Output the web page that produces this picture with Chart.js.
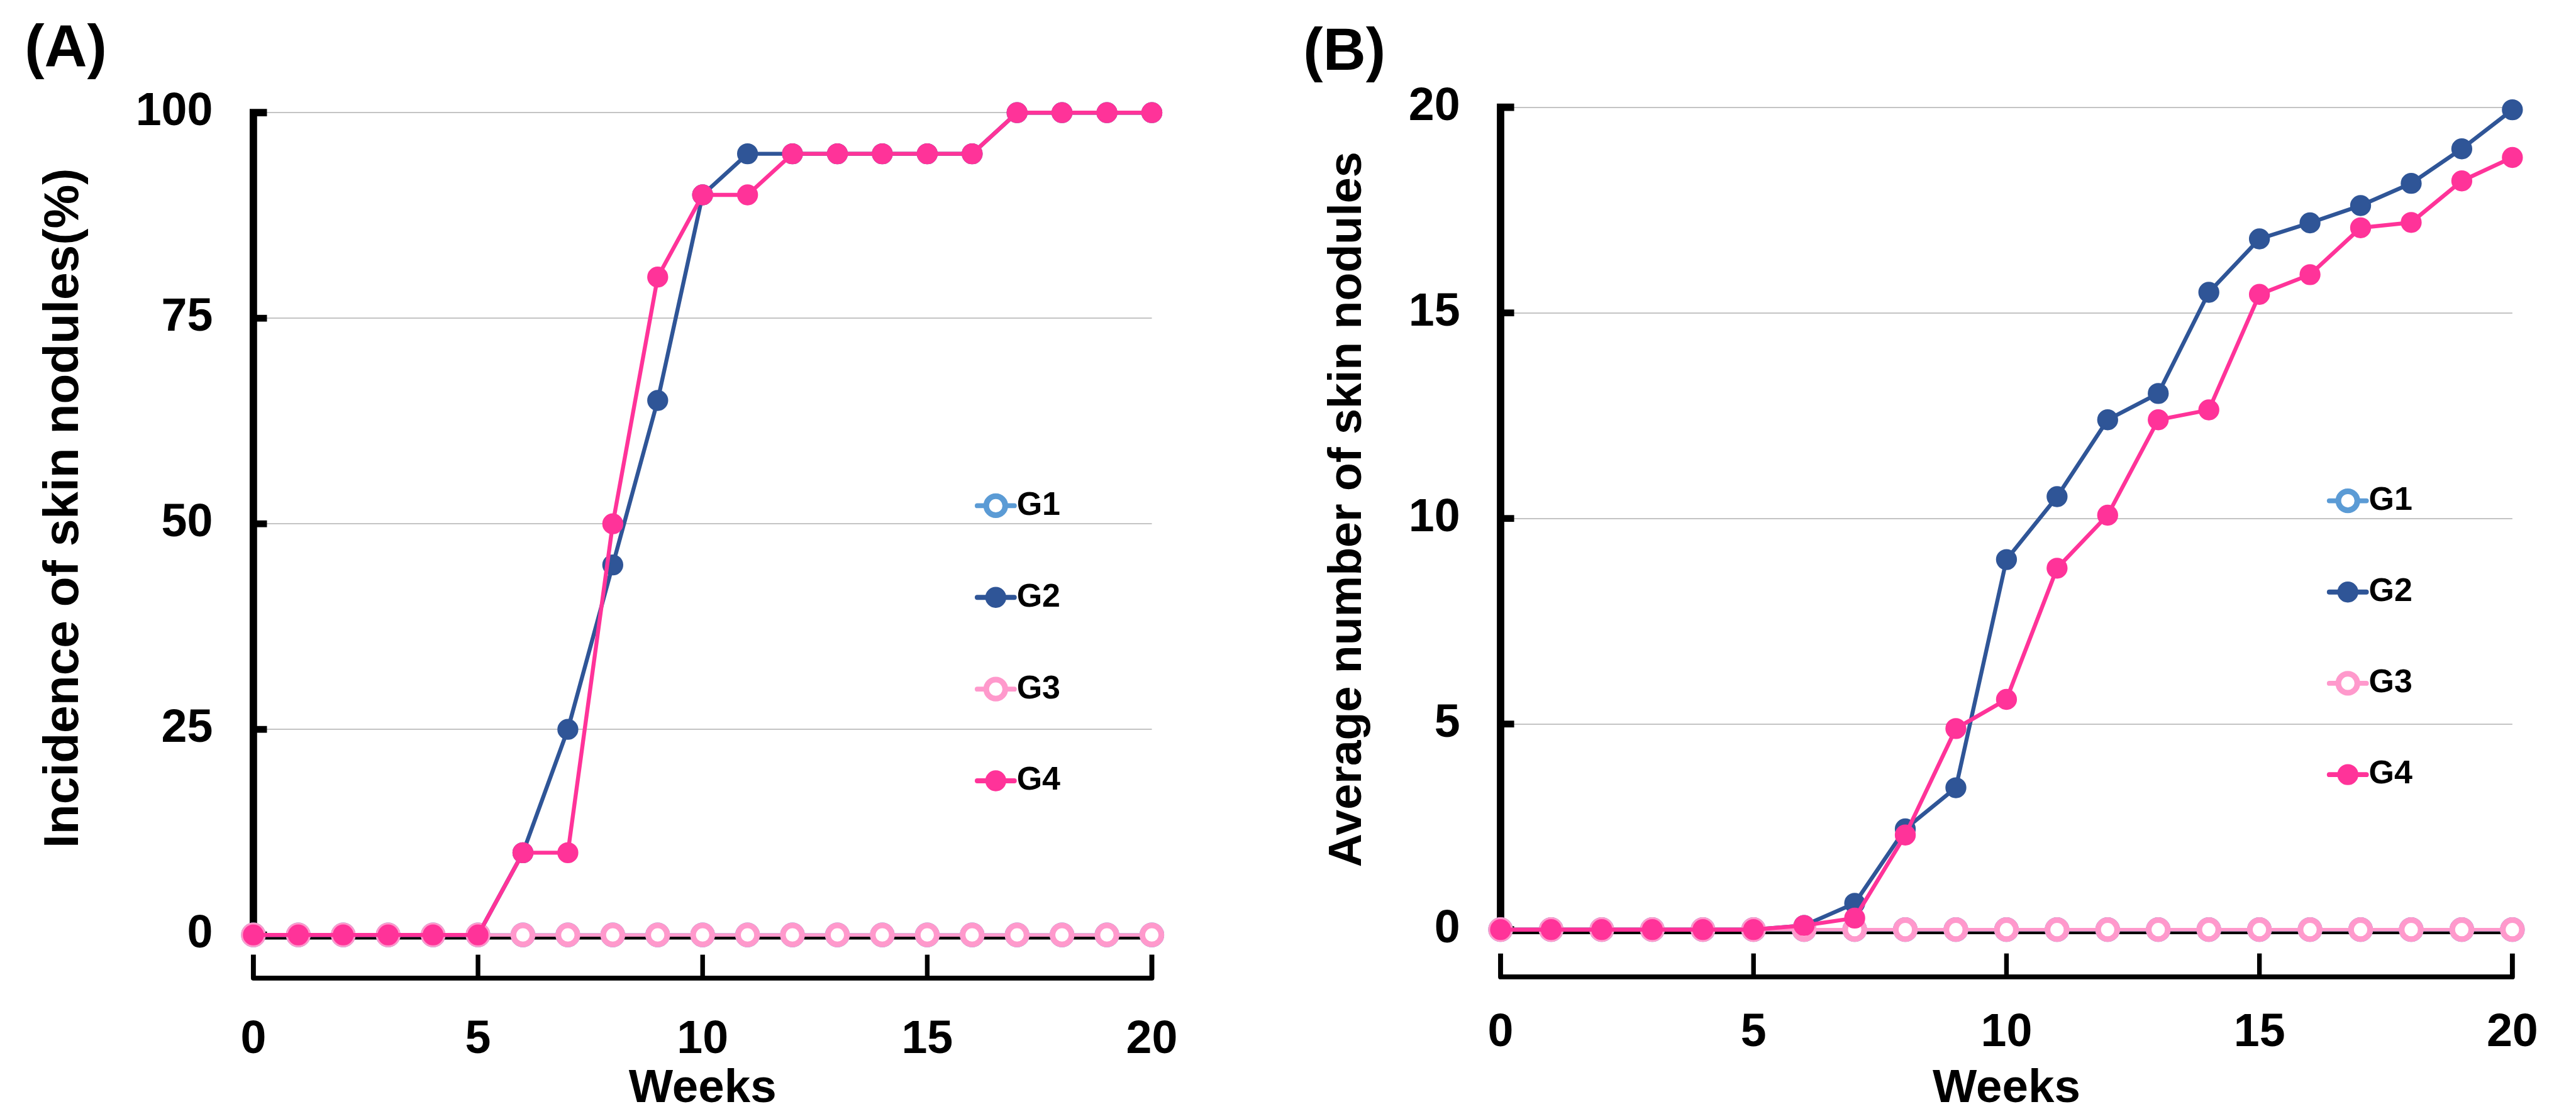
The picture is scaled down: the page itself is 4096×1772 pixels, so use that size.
<!DOCTYPE html>
<html>
<head>
<meta charset="utf-8">
<script src="https://cdn.jsdelivr.net/npm/chart.js@4.4.1/dist/chart.umd.min.js"></script>
<style>
html, body { margin: 0; padding: 0; background: #fff; overflow: hidden; }
canvas { position: absolute; top: 0; }
</style>
</head>
<body>
<canvas id="chartA"></canvas>
<canvas id="chartB"></canvas>
<script>
/* DATA */
const weeks = [0,1,2,3,4,5,6,7,8,9,10,11,12,13,14,15,16,17,18,19,20]
const weekTicks = [0,5,10,15,20]
const groups = ["G1","G2","G3","G4"]

// (A) incidence of skin nodules, %
const incidenceTicks = [0,25,50,75,100]
const incG1 = [0,0,0,0,0,0,0,0,0,0,0,0,0,0,0,0,0,0,0,0,0]
const incG2 = [0,0,0,0,0,0,10,25,45,65,90,95,95,95,95,95,95,100,100,100,100]
const incG3 = [0,0,0,0,0,0,0,0,0,0,0,0,0,0,0,0,0,0,0,0,0]
const incG4 = [0,0,0,0,0,0,10,10,50,80,90,90,95,95,95,95,95,100,100,100,100]

// (B) average number of skin nodules
const numberTicks = [0,5,10,15,20]
const numG1 = [0,0,0,0,0,0,0,0,0,0,0,0,0,0,0,0,0,0,0,0,0]
const numG2 = [0,0,0,0,0,0,0.1,0.64,2.45,3.45,9.0,10.53,12.4,13.04,15.5,16.8,17.19,17.61,18.15,18.99,19.94]
const numG3 = [0,0,0,0,0,0,0,0,0,0,0,0,0,0,0,0,0,0,0,0,0]
const numG4 = [0,0,0,0,0,0,0.1,0.28,2.3,4.89,5.6,8.79,10.08,12.4,12.64,15.45,15.93,17.07,17.2,18.21,18.78]


/* STYLE */
const S = 0.981
const FONT = '"Liberation Sans", Arial, sans-serif'
const H = 1772

const colors = { G1: "#5B9BD5", G2: "#2F5597", G3: "#FF99CC", G4: "#FF3399" }
const hollow = { G1: true, G2: false, G3: true, G4: false }
const drawOrder = { G1: 4, G2: 3, G3: 2, G4: 1 }

function buildDatasets(series){
    return groups.map((g, i) => {
        const open = hollow[g]
        return {
            label: g,
            data: weeks.map((w, j) => ({ x: w, y: series[i][j] })),
            borderColor: colors[g],
            borderWidth: (open ? 5.5 : 6.5) * S,
            pointRadius: (open ? 15.4 : 15.5) * S,
            pointBorderWidth: (open ? 9.2 : 3) * S,
            pointBorderColor: colors[g],
            pointBackgroundColor: open ? "#ffffff" : colors[g],
            tension: 0,
            order: drawOrder[g],
            clip: false
        }
    })
}


/* AXES: inside ticks, detached x axis, black zero line */
const axisLines = {
    id: "axisLines",
    beforeDatasetsDraw(chart){
        const { ctx } = chart
        const xs = chart.scales.x, ys = chart.scales.y
        const x0 = xs.getPixelForValue(weekTicks[0])
        const x1 = xs.getPixelForValue(weekTicks[weekTicks.length - 1])
        const yTickVals = ys.ticks.map(t => t.value)
        const yTop = ys.getPixelForValue(yTickVals[yTickVals.length - 1])
        const yZero = ys.getPixelForValue(0)
        const yb = chart.chartArea.bottom

        ctx.save()
        ctx.strokeStyle = "#000"

        ctx.lineWidth = 5 * S
        ctx.beginPath()
        ctx.moveTo(x0, yZero + 5 * S)
        ctx.lineTo(x1, yZero + 5 * S)
        ctx.stroke()

        ctx.lineWidth = 12 * S
        ctx.lineJoin = "miter"
        ctx.beginPath()
        ctx.moveTo(x0 + 22 * S, yTop)
        ctx.lineTo(x0, yTop)
        ctx.lineTo(x0, yZero + 4 * S)
        ctx.stroke()

        ctx.lineWidth = 11 * S
        yTickVals.slice(0, -1).forEach(v => {
            const p = ys.getPixelForValue(v)
            ctx.beginPath()
            ctx.moveTo(x0, p)
            ctx.lineTo(x0 + 22 * S, p)
            ctx.stroke()
        })

        ctx.lineWidth = 8 * S
        ctx.lineJoin = "round"
        ctx.beginPath()
        ctx.moveTo(x0, yb - 38 * S)
        ctx.lineTo(x0, yb)
        ctx.lineTo(x1, yb)
        ctx.lineTo(x1, yb - 38 * S)
        ctx.stroke()

        ctx.lineWidth = 7.5 * S
        weekTicks.slice(1, -1).forEach(v => {
            const p = xs.getPixelForValue(v)
            ctx.beginPath()
            ctx.moveTo(p, yb)
            ctx.lineTo(p, yb - 38 * S)
            ctx.stroke()
        })
        ctx.restore()
    }
}


/* PANEL LETTER + LEGEND */
const panelDecor = {
    id: "panelDecor",
    afterDraw(chart, args, o){
        const { ctx } = chart
        ctx.save()
        ctx.fillStyle = "#000"
        ctx.textBaseline = "middle"
        ctx.textAlign = "left"
        ctx.font = "bold " + (96 * S) + "px " + FONT
        ctx.fillText(o.letter, o.letterX * S, o.letterY * S)

        chart.data.datasets.forEach((ds, i) => {
            const cx = o.legendX * S
            const cy = (o.legendY + i * o.legendStep) * S
            ctx.lineCap = "round"
            ctx.strokeStyle = ds.borderColor
            ctx.lineWidth = 8 * S
            ctx.beginPath()
            ctx.moveTo(cx - 30 * S, cy)
            ctx.lineTo(cx + 30 * S, cy)
            ctx.stroke()

            ctx.beginPath()
            ctx.arc(cx, cy, ds.pointRadius, 0, Math.PI * 2)
            ctx.fillStyle = ds.pointBackgroundColor
            ctx.fill()
            ctx.lineWidth = ds.pointBorderWidth
            ctx.strokeStyle = ds.pointBorderColor
            ctx.stroke()

            ctx.fillStyle = "#000"
            ctx.font = "bold " + (53 * S) + "px " + FONT
            ctx.fillText(ds.label, cx + 34 * S, cy)
        })
        ctx.restore()
    }
}


function makeChart(id, left, width, p){

    const canvas = document.getElementById(id)
    canvas.width = width
    canvas.height = H
    canvas.style.left = left + "px"
    canvas.style.width = width + "px"
    canvas.style.height = H + "px"

    return new Chart(canvas, {
        type: "line",
        data: { datasets: buildDatasets(p.series) },
        plugins: [axisLines, panelDecor],
        options: {
            responsive: false,
            animation: false,
            devicePixelRatio: 1,
            events: [],
            layout: {
                padding: { left: 0, top: p.top * S, right: width - p.right * S, bottom: 0 }
            },
            scales: {
                x: {
                    type: "linear",
                    min: 0,
                    max: 20,
                    afterBuildTicks: s => { s.ticks = weekTicks.map(v => ({ value: v })) },
                    afterFit: s => {
                        s.height = H - p.bottom * S
                        s.paddingLeft = 0
                        s.paddingRight = 0
                    },
                    grid: { display: false, drawTicks: false },
                    border: { display: false },
                    ticks: {
                        color: "#000",
                        maxRotation: 0,
                        autoSkip: false,
                        padding: p.xLabelPad * S,
                        font: { family: FONT, size: 75 * S, weight: "bold", lineHeight: 1 }
                    },
                    title: {
                        display: true,
                        text: "Weeks",
                        color: "#000",
                        font: { family: FONT, size: 76 * S, weight: "bold", lineHeight: 1 },
                        padding: { top: 0, bottom: H - p.xTitleY * S - 38 * S }
                    }
                },
                y: {
                    type: "linear",
                    min: p.yMin,
                    max: p.yMax,
                    afterBuildTicks: s => { s.ticks = p.ticks.map(v => ({ value: v })) },
                    afterFit: s => {
                        // keep the label overflow from pushing the plot area down
                        s.width = p.left * S
                        s.paddingTop = 0
                        s.paddingBottom = 0
                    },
                    grid: {
                        drawTicks: false,
                        lineWidth: 2 * S,
                        color: c => (c.tick && c.tick.value === 0) ? "rgba(0,0,0,0)" : "#c4c4c4"
                    },
                    border: { display: false },
                    ticks: {
                        color: "#000",
                        padding: 65.7 * S,
                        font: { family: FONT, size: 75 * S, weight: "bold", lineHeight: 1 }
                    },
                    title: {
                        display: true,
                        text: p.yTitle,
                        color: "#000",
                        font: { family: FONT, size: p.yTitleSize * S, weight: "bold", lineHeight: 1 },
                        padding: { top: (p.yTitleX - p.yTitleSize / 2) * S, bottom: 0 }
                    }
                }
            },
            plugins: {
                legend: { display: false },
                tooltip: { enabled: false },
                panelDecor: {
                    letter: p.letter,
                    letterX: p.letterX,
                    letterY: p.letterY,
                    legendX: p.legendX,
                    legendY: p.legendY,
                    legendStep: p.legendStep
                }
            }
        }
    })
}


/* GRAFICO A */
makeChart("chartA", 0, 2040, {
    series: [incG1, incG2, incG3, incG4],
    ticks: incidenceTicks,
    yMin: -5.25, yMax: 109.05,
    left: 410.7, right: 1867, top: 62, bottom: 1586,
    xLabelPad: 63, xTitleY: 1766.5,
    yTitle: "Incidence of skin nodules(%)", yTitleSize: 80, yTitleX: 104.5,
    letter: "(A)", letterX: 40, letterY: 82,
    legendX: 1614, legendY: 820, legendStep: 148.7
})

/* GRAFICO B */
makeChart("chartB", 2040, 2056, {
    series: [numG1, numG2, numG3, numG4],
    ticks: numberTicks,
    yMin: -1.15, yMax: 21.59,
    left: 352.7, right: 1992.7, top: 68, bottom: 1584,
    xLabelPad: 54.5, xTitleY: 1766.5,
    yTitle: "Average number of skin nodules", yTitleSize: 75, yTitleX: 106,
    letter: "(B)", letterX: 33, letterY: 86.5,
    legendX: 1726, legendY: 812, legendStep: 148
})
</script>
</body>
</html>
